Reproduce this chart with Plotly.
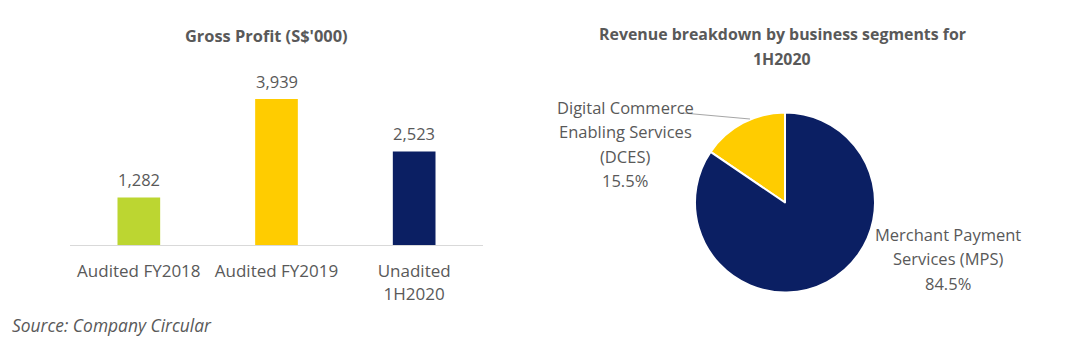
import plotly.graph_objects as go

# ---- data ----
bar_categories = ["Audited FY2018", "Audited FY2019", "Unadited<br>1H2020"]
bar_values = [1282, 3939, 2523]
bar_colors = ["#bcd631", "#ffcc00", "#0b1f63"]

pie_labels = ["Digital Commerce<br>Enabling Services<br>(DCES)", "Merchant Payment<br>Services (MPS)"]
pie_values = [15.5, 84.5]
pie_colors = ["#ffcc00", "#0b1f63"]

bar_title = "Gross Profit (S$'000)"
pie_title = ["Revenue breakdown by business segments for", "1H2020"]
source_text = "Source: Company Circular"

FONT = "Open Sans"
GRAY = "#595959"
W, H = 1086, 349

def px_x(px):
    return px / W

def px_y(py):
    return 1 - py / H

fig = go.Figure()

fig.add_trace(go.Bar(
    x=bar_categories, y=bar_values,
    marker=dict(color=bar_colors, line=dict(width=0)),
    width=0.31,
    textposition="none",
    cliponaxis=False,
    showlegend=False,
))

# first slice (DCES) ends at 12 o'clock, sweeping clockwise
first_share = pie_values[0] / sum(pie_values)
fig.add_trace(go.Pie(
    labels=pie_labels, values=pie_values,
    marker=dict(colors=pie_colors, line=dict(color="white", width=2)),
    sort=False, direction="clockwise", rotation=-360 * first_share,
    textinfo="none", hoverinfo="label+percent",
    domain=dict(x=[px_x(785 - 90), px_x(785 + 90)],
                y=[px_y(202.5 + 90), px_y(202.5 - 90)]),
    showlegend=False,
))

fig.update_layout(
    width=W, height=H,
    margin=dict(l=0, r=0, t=0, b=0),
    paper_bgcolor="white", plot_bgcolor="white",
    font=dict(family=FONT, color=GRAY),
    xaxis=dict(
        domain=[px_x(70), px_x(483)],
        range=[-0.5, 2.5],
        showline=True, linecolor="#d9d9d9", linewidth=1,
        showgrid=False, zeroline=False,
        ticks="", ticklabelstandoff=11,
        tickfont=dict(family=FONT, size=17, color=GRAY),
        fixedrange=True,
    ),
    yaxis=dict(
        domain=[px_y(245), px_y(80)],
        range=[0, 165 / 146 * 3939],
        visible=False, showgrid=False, zeroline=False,
        fixedrange=True,
    ),
)

# bar value labels
for c, v in zip(bar_categories, bar_values):
    fig.add_annotation(text=f"{v:,}", x=c, y=v, xref="x", yref="y",
                       showarrow=False, yshift=18, xanchor="center", yanchor="middle",
                       font=dict(family=FONT, size=16.5, color=GRAY))

# titles / source
fig.add_annotation(text=f"<b>{bar_title}</b>", x=px_x(266), y=px_y(35),
                   xref="paper", yref="paper", showarrow=False,
                   font=dict(family=FONT, size=16.4, color=GRAY),
                   xanchor="center", yanchor="middle")
for i, line in enumerate(pie_title):
    fig.add_annotation(text=f"<b>{line}</b>", x=px_x(782), y=px_y(34 + 25 * i),
                       xref="paper", yref="paper", showarrow=False,
                       font=dict(family=FONT, size=15.9, color=GRAY),
                       xanchor="center", yanchor="middle")
fig.add_annotation(text=f"<i>{source_text}</i>", x=px_x(10), y=px_y(325),
                   xref="paper", yref="paper", showarrow=False,
                   font=dict(family=FONT, size=17.4, color=GRAY),
                   xanchor="left", yanchor="middle")

# pie labels (one annotation per line for spacing control)
label_pos = [(625, 107), (948, 234)]
for lab, val, (lx, ly) in zip(pie_labels, pie_values, label_pos):
    lines = lab.split("<br>") + [f"{val}%"]
    for i, line in enumerate(lines):
        fig.add_annotation(text=line, x=px_x(lx), y=px_y(ly + 24.5 * i),
                           xref="paper", yref="paper", showarrow=False,
                           font=dict(family=FONT, size=16.5, color=GRAY),
                           xanchor="center", yanchor="middle")

# leader line
fig.add_shape(type="line", xref="paper", yref="paper",
              x0=px_x(683), y0=px_y(113), x1=px_x(750), y1=px_y(119),
              line=dict(color="#a6a6a6", width=1))

fig.write_html("out.html")
